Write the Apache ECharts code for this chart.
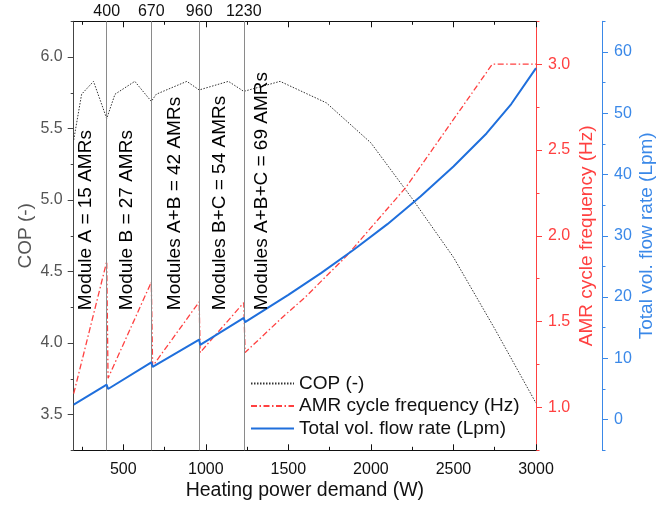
<!DOCTYPE html>
<html>
<head>
<meta charset="utf-8">
<script src="https://cdn.jsdelivr.net/npm/echarts@6/dist/echarts.min.js"></script>
<style>
html,body{margin:0;padding:0;background:#fff;}
#chart{width:670px;height:512px;}
</style>
</head>
<body>
<div id="chart"></div>
<script>
// ---- data ----
const COP_X = [200, 248, 320, 400, 450, 570, 670, 700, 885, 960, 1137, 1230, 1450, 1730, 2000, 2250, 2500, 2750, 3000];
const COP_Y = [5.42, 5.74, 5.83, 5.57, 5.74, 5.83, 5.69, 5.74, 5.83, 5.77, 5.83, 5.76, 5.83, 5.68, 5.40, 5.01, 4.60, 4.10, 3.58];

const FREQ_X = [200, 400, 408, 670, 678, 960, 966, 1230, 1238, 1470, 1600, 1850, 2210, 2735, 3000];
const FREQ_Y = [1.08, 1.85, 1.17, 1.73, 1.24, 1.615, 1.32, 1.61, 1.32, 1.53, 1.64, 1.88, 2.28, 3.0, 3.0];

const FLOW_X = [200, 400, 408, 670, 678, 960, 966, 1230, 1238, 1500, 1700, 1900, 2100, 2300, 2500, 2700, 2850, 3000];
const FLOW_Y = [2.45, 5.7, 5.0, 9.35, 8.6, 13.05, 12.2, 16.6, 15.9, 20.35, 23.95, 27.8, 31.9, 36.4, 41.3, 46.7, 51.5, 57.35];

const MODULE_LINES = [400, 670, 960, 1230];
const ANNOT_TEXT = ['Module A = 15 AMRs', 'Module B = 27 AMRs', 'Modules A+B = 42 AMRs', 'Modules B+C = 54 AMRs', 'Modules A+B+C = 69 AMRs'];
const ANNOT_X = [275, 521, 814, 1087, 1339];
const ANNOT_COP = 4.23;

const X_MAJOR = [500, 1000, 1500, 2000, 2500, 3000];
const X_MINOR = [250, 750, 1250, 1750, 2250, 2750];
const COP_MAJOR = [3.5, 4.0, 4.5, 5.0, 5.5, 6.0];
const COP_MINOR = [3.25, 3.75, 4.25, 4.75, 5.25, 5.75, 6.25];
const FREQ_MAJOR = [1.0, 1.5, 2.0, 2.5, 3.0];
const FREQ_MINOR = [0.75, 1.25, 1.75, 2.25, 2.75, 3.25];
const FLOW_MAJOR = [0, 10, 20, 30, 40, 50, 60];
const FLOW_MINOR = [-5, 5, 15, 25, 35, 45, 55, 65];

const pairs = (xs, ys) => xs.map((x, i) => [x, ys[i]]);

// ---- styles ----
const FONT = 'Liberation Sans, Arial, sans-serif';
const RED = '#ff4040';
const BLUE_AX = '#3a88e8';
const BLUE = '#1f6fdc';
const GREY_AX = '#444';

const chart = echarts.init(document.getElementById('chart'), null, {renderer: 'canvas'});

function xAx(pos, major, withLabels) {
  return {
    type: 'value', position: pos, min: 200, max: 3000,
    axisLine: {show: major, onZero: false, lineStyle: {color: '#111', width: 1}},
    axisTick: {show: true, inside: true, length: major ? 6 : 3.5,
               customValues: major ? X_MAJOR : X_MINOR, lineStyle: {color: '#111'}},
    axisLabel: {show: withLabels, customValues: X_MAJOR, margin: 11, fontSize: 16, color: '#111', fontFamily: FONT,
                formatter: v => String(v)},
    splitLine: {show: false},
    name: withLabels ? 'Heating power demand (W)' : '',
    nameLocation: 'middle', nameGap: 30, nameMoveOverlap: false,
    nameTextStyle: {fontSize: 19.5, color: '#111', fontFamily: FONT}
  };
}

function yAx(opts) {
  return Object.assign({
    type: 'value', splitLine: {show: false}, nameMoveOverlap: false
  }, opts);
}

const option = {
  backgroundColor: '#fff',
  animation: false,
  textStyle: {fontFamily: FONT},
  grid: {left: 73.7, right: 134, top: 21.3, bottom: 61.7, containLabel: false},
  xAxis: [
    xAx('bottom', true, true),
    xAx('bottom', false, false),
    xAx('top', true, false),
    xAx('top', false, false)
  ],
  yAxis: [
    yAx({position: 'left', min: 3.25, max: 6.25,
      axisLine: {show: true, onZero: false, lineStyle: {color: GREY_AX}},
      axisTick: {show: true, inside: false, length: 6, customValues: COP_MAJOR, lineStyle: {color: GREY_AX}},
      axisLabel: {customValues: COP_MAJOR, margin: 11, fontSize: 16, color: '#555', fontFamily: FONT,
                  formatter: v => v.toFixed(1)},
      name: 'COP (-)', nameLocation: 'middle', nameGap: 38,
      nameTextStyle: {fontSize: 19, color: '#555', fontFamily: FONT}}),
    yAx({position: 'left', min: 3.25, max: 6.25,
      axisLine: {show: false, onZero: false},
      axisTick: {show: true, inside: false, length: 3, customValues: COP_MINOR, lineStyle: {color: GREY_AX}},
      axisLabel: {show: false}}),
    yAx({position: 'right', offset: 0, min: 0.75, max: 3.25,
      axisLine: {show: true, onZero: false, lineStyle: {color: RED}},
      axisTick: {show: true, inside: false, length: 6, customValues: FREQ_MAJOR, lineStyle: {color: RED}},
      axisLabel: {customValues: FREQ_MAJOR, margin: 12, fontSize: 16, color: RED, fontFamily: FONT,
                  formatter: v => v.toFixed(1)},
      name: 'AMR cycle frequency (Hz)', nameLocation: 'middle', nameGap: 41,
      nameTextStyle: {fontSize: 19, color: RED, fontFamily: FONT}}),
    yAx({position: 'right', offset: 0, min: 0.75, max: 3.25,
      axisLine: {show: false, onZero: false},
      axisTick: {show: true, inside: false, length: 3.5, customValues: FREQ_MINOR, lineStyle: {color: RED}},
      axisLabel: {show: false}}),
    yAx({position: 'right', offset: 66, min: -5, max: 65,
      axisLine: {show: true, onZero: false, lineStyle: {color: BLUE_AX}},
      axisTick: {show: true, inside: false, length: 6, customValues: FLOW_MAJOR, lineStyle: {color: BLUE_AX}},
      axisLabel: {customValues: FLOW_MAJOR, margin: 12, fontSize: 16, color: BLUE_AX, fontFamily: FONT},
      name: 'Total vol. flow rate (Lpm)', nameLocation: 'middle', nameGap: 35,
      nameTextStyle: {fontSize: 19, color: BLUE_AX, fontFamily: FONT}}),
    yAx({position: 'right', offset: 66, min: -5, max: 65,
      axisLine: {show: false, onZero: false},
      axisTick: {show: true, inside: false, length: 3.5, customValues: FLOW_MINOR, lineStyle: {color: BLUE_AX}},
      axisLabel: {show: false}})
  ],
  legend: {
    orient: 'vertical', left: 250, top: 374, padding: 0,
    itemWidth: 43, itemHeight: 10, itemGap: 3.5,
    itemStyle: {opacity: 0},
    textStyle: {fontSize: 19, color: '#111', fontFamily: FONT, lineHeight: 19},
    data: ['COP (-)', 'AMR cycle frequency (Hz)', 'Total vol. flow rate (Lpm)']
  },
  series: [
    {
      name: 'COP (-)', type: 'line', xAxisIndex: 0, yAxisIndex: 0,
      data: pairs(COP_X, COP_Y), showSymbol: false, symbol: 'none',
      lineStyle: {color: '#333', width: 1, type: [1.5, 1.5]}, itemStyle: {color: '#333'},
      z: 3,
      markLine: {
        silent: true, symbol: ['none', 'none'],
        lineStyle: {color: '#8a8a8a', width: 1, type: 'solid'},
        label: {show: true, position: 'end', distance: 2, formatter: p => String(p.value),
                fontSize: 16, color: '#111', fontFamily: FONT},
        data: MODULE_LINES.map(v => ({xAxis: v}))
      }
    },
    {
      name: 'AMR cycle frequency (Hz)', type: 'line', xAxisIndex: 0, yAxisIndex: 2,
      data: pairs(FREQ_X, FREQ_Y), showSymbol: false, symbol: 'none',
      lineStyle: {color: RED, width: 1.3, type: [6, 2.5, 1.5, 2.5]}, itemStyle: {color: RED}, z: 4
    },
    {
      name: 'Total vol. flow rate (Lpm)', type: 'line', xAxisIndex: 0, yAxisIndex: 4,
      data: pairs(FLOW_X, FLOW_Y), showSymbol: false, symbol: 'none',
      lineStyle: {color: BLUE, width: 2}, itemStyle: {color: BLUE}, z: 5
    },
    {
      name: 'annotations', type: 'scatter', xAxisIndex: 0, yAxisIndex: 0,
      symbolSize: 0, silent: true,
      itemStyle: {opacity: 1},
      data: ANNOT_X.map(x => [x, ANNOT_COP]),
      label: {
        show: true, position: [0, 0], rotate: 90, align: 'left', verticalAlign: 'middle',
        formatter: p => ANNOT_TEXT[p.dataIndex], opacity: 1,
        fontSize: 19, color: '#000', fontFamily: FONT
      },
      z: 6
    }
  ]
};
chart.setOption(option);
</script>
</body>
</html>
